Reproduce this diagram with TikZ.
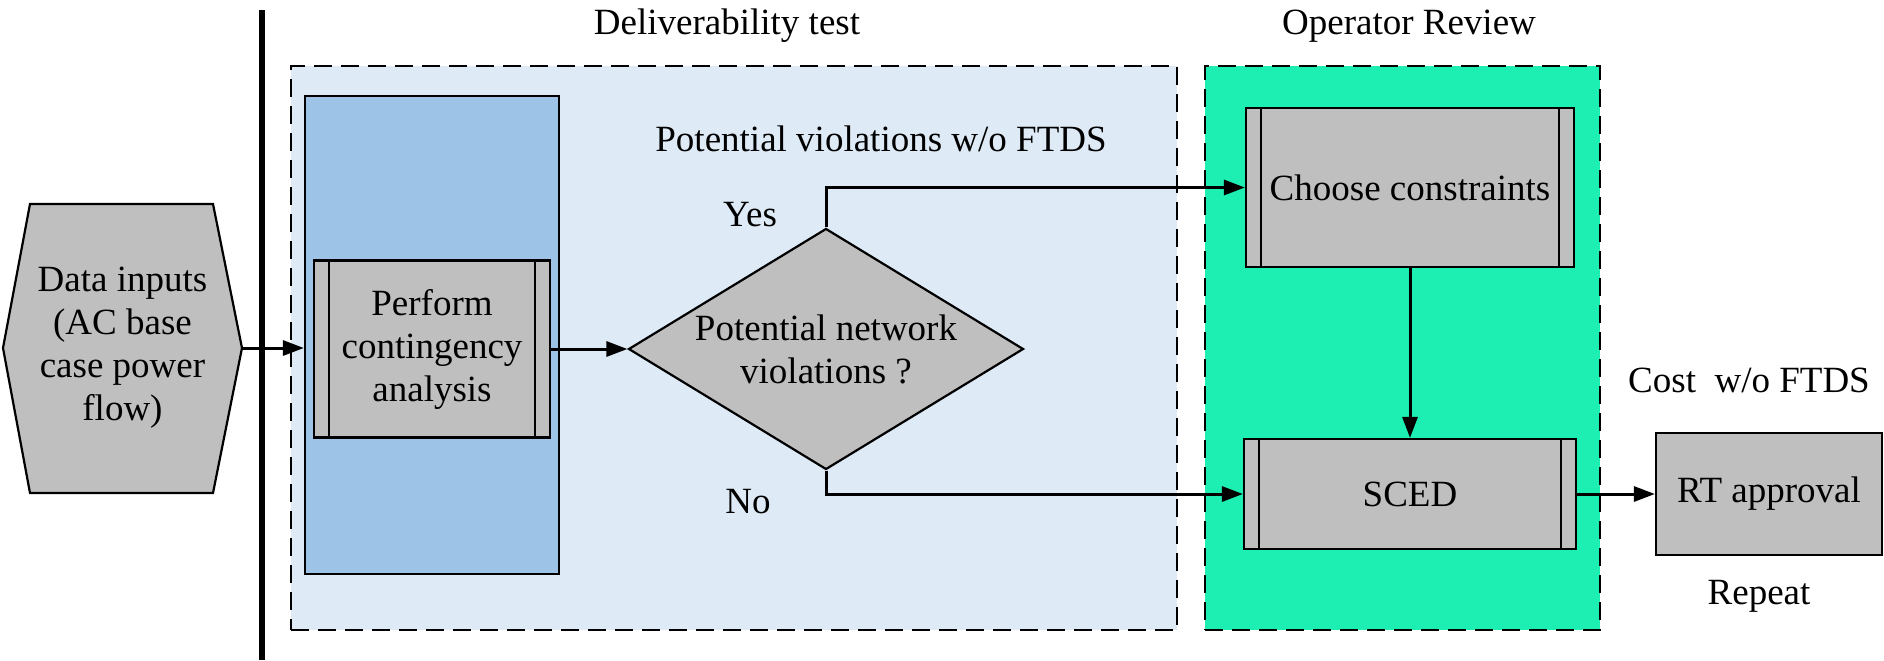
\documentclass[tikz,border=0pt]{standalone}
\usepackage{fontspec}
\setmainfont{Liberation Serif}
\usetikzlibrary{arrows.meta,shapes.geometric,positioning}
\definecolor{delblue}{HTML}{DEEBF7}
\definecolor{ctgblue}{HTML}{9DC3E6}
\definecolor{revgreen}{HTML}{1DEFB3}
\definecolor{procgray}{HTML}{BFBFBF}
\tikzset{
  proc/.style={draw, line width=1.1pt, fill=procgray, align=center, inner sep=0pt},
  subproc/.style={proc, path picture={
      \draw[line width=1.1pt]
        ([xshift=7.5pt]path picture bounding box.north west) -- ([xshift=7.5pt]path picture bounding box.south west)
        ([xshift=-7.5pt]path picture bounding box.north east) -- ([xshift=-7.5pt]path picture bounding box.south east);}},
  decision/.style={proc, diamond, shape aspect=1.64},
  stage/.style={draw, dash pattern=on 9pt off 4.5pt, line width=1pt, inner sep=0pt},
  flow/.style={line width=1.5pt, -{Triangle[length=10.5pt,width=7.5pt]}},
}

\begin{document}
\begin{tikzpicture}[x=0.5pt, y=-0.5pt, font=\fontsize{18.5}{21.5}\selectfont]
    \useasboundingbox (0,0) rectangle (1884,660);
    %% stages
    \node[stage, fill=delblue, minimum width=443pt, minimum height=282pt] (delbox) at (734,348) {};
    \node[stage, fill=revgreen, minimum width=197.5pt, minimum height=282pt] (revbox) at (1402.5,348) {};
    \node (deltitle) at (727,26) {Deliverability test};
    \node (revtitle) at (1409,26) {Operator Review};
    \node (potlabel) at (881,139) {Potential violations w/o FTDS};
    %% input
    \coordinate (bartop) at (262,10);
    \coordinate (barbot) at (262,660);
    \draw[line width=2.8pt] (bartop) -- (barbot);
    \draw[line width=1.1pt, fill=procgray] (3,348) -- (30,204) -- (213,204) -- (242,348)
      -- (213,493) -- (30,493) -- cycle;
    \node[align=center, minimum width=119.5pt, inner sep=0pt] (data) at (122.5,348)
      {Data inputs\\(AC base\\case power\\flow)};
    %% deliverability
    \node[draw, line width=1.1pt, fill=ctgblue, minimum width=127pt, minimum height=239pt] (ctgbox) at (432,335) {};
    \node[subproc, minimum width=118pt, minimum height=88.5pt] (perf) at (432,349)
      {Perform\\contingency\\analysis};
    \node[decision, minimum width=197.5pt, minimum height=120.5pt] (dec) at (826,349)
      {Potential network\\violations ?};
    \node (yes) at (750,215) {Yes};
    \node (no) at (748,502) {No};
    %% review
    \node[subproc, minimum width=164pt, minimum height=79.5pt] (choose) at (1410,187.5) {Choose constraints};
    \node[subproc, minimum width=166pt, minimum height=55pt] (sced) at (1410,494) {SCED};
    \node[proc, minimum width=113pt, minimum height=61pt] (rt) at (1769,494) {RT approval};
    \node (cost) at (1749,380) {Cost~ w/o FTDS};
    \node (repeat) at (1759,596) {Repeat};
    %% flows
    \draw[flow] (data.east) -- (data.east -| ctgbox.west);
    \draw[flow] (perf.east) -- (dec.west);
    \draw[flow] (dec.north) |- (choose.west);
    \draw[flow] (dec.south) |- (sced.west);
    \draw[flow] (choose.south) -- (sced.north);
    \draw[flow] (sced.east) -- (rt.west);
\end{tikzpicture}
\end{document}
